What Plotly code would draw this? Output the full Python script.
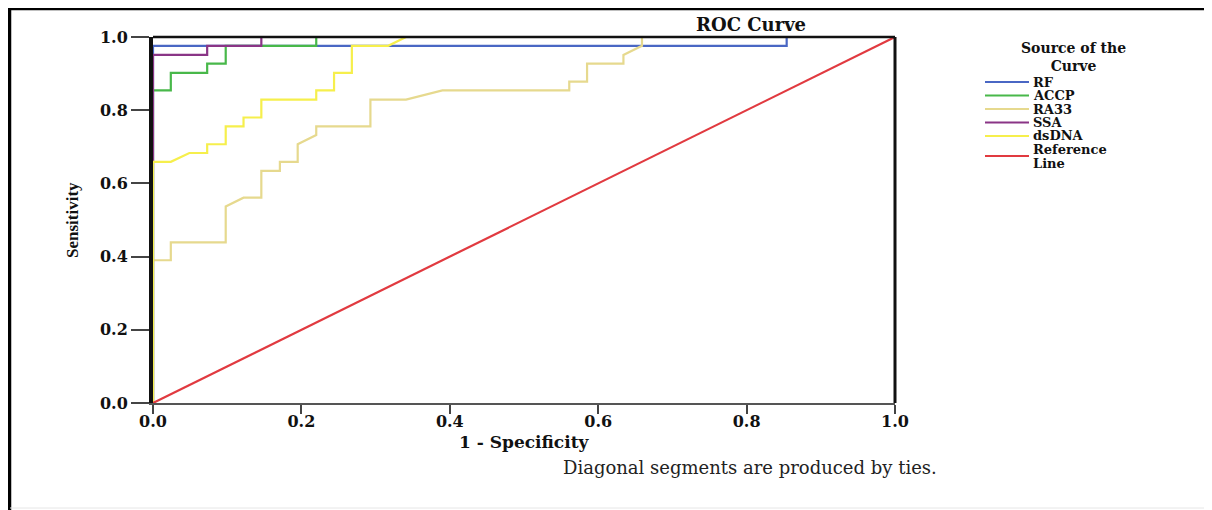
import plotly.graph_objects as go

# ---------------- data ----------------
rf_fpr = [0, 0, 0.854, 0.854, 1]
rf_tpr = [0, 0.976, 0.976, 1, 1]

accp_fpr = [0, 0, 0.024, 0.024, 0.073, 0.073, 0.098, 0.098, 0.220, 0.220, 1]
accp_tpr = [0, 0.854, 0.854, 0.902, 0.902, 0.927, 0.927, 0.976, 0.976, 1, 1]

ra33_fpr = [0, 0, 0.024, 0.024, 0.098, 0.098, 0.122, 0.146, 0.146, 0.171, 0.171,
            0.195, 0.195, 0.220, 0.220, 0.293, 0.293, 0.341, 0.390, 0.561, 0.561,
            0.585, 0.585, 0.634, 0.634, 0.659, 0.659, 1]
ra33_tpr = [0, 0.390, 0.390, 0.439, 0.439, 0.537, 0.561, 0.561, 0.634, 0.634, 0.659,
            0.659, 0.707, 0.732, 0.756, 0.756, 0.829, 0.829, 0.854, 0.854, 0.878,
            0.878, 0.927, 0.927, 0.951, 0.976, 1, 1]

ssa_fpr = [0, 0, 0.073, 0.073, 0.146, 0.146, 1]
ssa_tpr = [0, 0.951, 0.951, 0.976, 0.976, 1, 1]

dsdna_fpr = [0, 0, 0.024, 0.049, 0.073, 0.073, 0.098, 0.098, 0.122, 0.122, 0.146,
             0.146, 0.220, 0.220, 0.244, 0.244, 0.268, 0.268, 0.317, 0.341, 1]
dsdna_tpr = [0, 0.659, 0.659, 0.683, 0.683, 0.707, 0.707, 0.756, 0.756, 0.780, 0.780,
             0.829, 0.829, 0.854, 0.854, 0.902, 0.902, 0.976, 0.976, 1, 1]

ref_fpr = [0, 1]
ref_tpr = [0, 1]

series_names = ["RF", "ACCP", "RA33", "SSA", "dsDNA", "Reference Line"]
tick_vals = [0, 0.2, 0.4, 0.6, 0.8, 1.0]
tick_text = ["0.0", "0.2", "0.4", "0.6", "0.8", "1.0"]

# ---------------- styling ----------------
OFF = 8                      # page body margin of the html page
W, H = 1212 - OFF, 510 - OFF
# plot area in page pixels
PL, PR, PT, PB = 153, 895, 37, 403
L, R, T, B = PL - OFF, PR - OFF, PT - OFF, PB - OFF
colors = ["#4a67c4", "#48b84a", "#e6d98e", "#8a3586", "#f6ef4c", "#e13a40"]
SERIF = "DejaVu Serif"


def px(x):
    """page pixel x -> paper coordinate"""
    return (x - PL) / (PR - PL)


def py(y):
    """page pixel y -> paper coordinate"""
    return (PB - y) / (PB - PT)


fig = go.Figure()
data = [(rf_fpr, rf_tpr), (accp_fpr, accp_tpr), (ra33_fpr, ra33_tpr),
        (ssa_fpr, ssa_tpr), (dsdna_fpr, dsdna_tpr), (ref_fpr, ref_tpr)]
for (xs, ys), name, c in zip(data, series_names, colors):
    fig.add_trace(go.Scatter(x=xs, y=ys, mode="lines", name=name,
                             line=dict(color=c, width=2.2), showlegend=False,
                             cliponaxis=False))

shapes = []
annotations = []

# plot frame: top black, right thick black
shapes.append(dict(type="line", xref="paper", yref="paper", x0=0, x1=1, y0=1, y1=1,
                   line=dict(color="#111", width=2.5)))
shapes.append(dict(type="line", xref="paper", yref="paper", x0=1, x1=1, y0=0, y1=1,
                   line=dict(color="#111", width=3)))

# outer image frame
shapes.append(dict(type="line", xref="paper", yref="paper", x0=px(9.5), x1=px(9.5),
                   y0=py(7), y1=py(512), line=dict(color="#000", width=3.5)))
shapes.append(dict(type="line", xref="paper", yref="paper", x0=px(8), x1=px(1213),
                   y0=py(9), y1=py(9), line=dict(color="#000", width=2.5)))
shapes.append(dict(type="line", xref="paper", yref="paper", x0=px(1209.5), x1=px(1209.5),
                   y0=py(8), y1=py(510), line=dict(color="#555", width=1)))
shapes.append(dict(type="line", xref="paper", yref="paper", x0=px(10), x1=px(1210),
                   y0=py(508), y1=py(508), line=dict(color="#e6e6e6", width=1)))

# manual legend
annotations.append(dict(text="<b>Source of the<br>Curve</b>", xref="paper", yref="paper",
                        x=px(1073), y=py(56.5), xanchor="center", yanchor="middle",
                        showarrow=False, align="center",
                        font=dict(family=SERIF, size=14, color="#111")))
row_y = [82, 95.5, 109, 122.5, 136, 156]
for name, c, ry in zip(series_names, colors, row_y):
    shapes.append(dict(type="line", xref="paper", yref="paper", x0=px(985), x1=px(1029),
                       y0=py(ry), y1=py(ry), line=dict(color=c, width=2)))
    words = name.split(" ")
    if len(words) == 1:
        annotations.append(dict(text="<b>" + name + "</b>", xref="paper", yref="paper",
                                x=px(1031), y=py(ry), xanchor="left", yanchor="middle",
                                showarrow=False,
                                font=dict(family=SERIF, size=13, color="#111")))
    else:
        for k, w in enumerate(words):
            annotations.append(dict(text="<b>" + w + "</b>", xref="paper", yref="paper",
                                    x=px(1031), y=py(ry - 6.5 + 13.5 * k), xanchor="left",
                                    yanchor="middle", showarrow=False,
                                    font=dict(family=SERIF, size=13, color="#111")))

# titles
annotations.append(dict(text="<b>ROC Curve</b>", xref="paper", yref="paper",
                        x=px(751), y=py(25), xanchor="center", yanchor="middle",
                        showarrow=False, font=dict(family=SERIF, size=18, color="#111")))
annotations.append(dict(text="<b>1 - Specificity</b>", xref="paper", yref="paper",
                        x=px(524), y=py(442), xanchor="center", yanchor="middle",
                        showarrow=False, font=dict(family=SERIF, size=17, color="#111")))
annotations.append(dict(text="<b>Sensitivity</b>", xref="paper", yref="paper",
                        x=px(72), y=py(220), xanchor="center", yanchor="middle",
                        textangle=-90, showarrow=False,
                        font=dict(family="Liberation Serif", size=17, color="#111")))
annotations.append(dict(text="Diagonal segments are produced by ties.", xref="paper",
                        yref="paper", x=px(750), y=py(467), xanchor="center",
                        yanchor="middle", showarrow=False,
                        font=dict(family=SERIF, size=18, color="#222")))

tickfont = dict(family=SERIF, size=16, color="#111", weight="bold")
fig.update_layout(
    width=W, height=H,
    margin=dict(l=L, r=W - R, t=T, b=H - B, pad=0),
    paper_bgcolor="white", plot_bgcolor="white",
    showlegend=False,
    shapes=shapes, annotations=annotations,
    xaxis=dict(range=[0, 1], tickvals=tick_vals, ticktext=tick_text, ticks="outside",
               ticklen=9, tickwidth=2, tickcolor="#444", showgrid=False, zeroline=False,
               showline=True, linecolor="#555", linewidth=2, tickfont=tickfont,
               ticklabelstandoff=-6, fixedrange=True),
    yaxis=dict(range=[0, 1], tickvals=tick_vals, ticktext=tick_text, ticks="outside",
               ticklen=18, tickwidth=1.5, tickcolor="#444", showgrid=False, zeroline=False,
               showline=True, linecolor="#111", linewidth=4, tickfont=tickfont,
               fixedrange=True),
)

fig.write_html("out.html")
